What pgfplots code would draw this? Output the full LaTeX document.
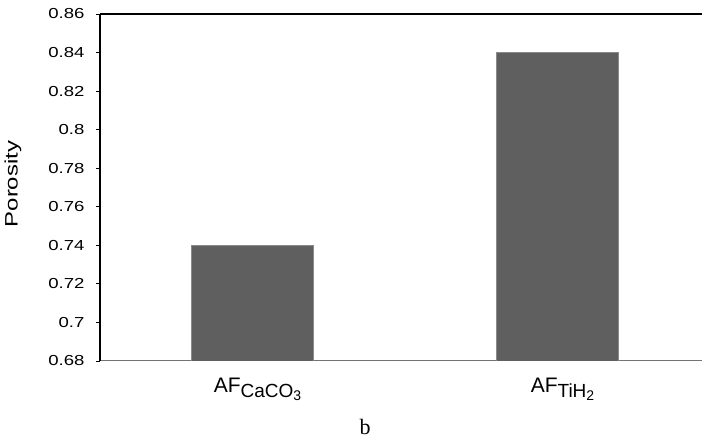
\documentclass[border=0pt]{standalone}
\usepackage{pgfplots}
\pgfplotsset{compat=1.18}
\usepackage{fontspec}
\setmainfont{Liberation Sans}
\newfontfamily\tickfont[FakeStretch=1.28]{Liberation Sans}
\newfontfamily\labfont[FakeStretch=1.33]{Liberation Sans}
\newfontfamily\serif{Liberation Serif}
\definecolor{barfill}{HTML}{5F5F5F}
\definecolor{baredge}{HTML}{8A8A8A}
\newcommand{\cat}[2]{\fontsize{21}{21}\selectfont AF\raisebox{-5pt}{\fontsize{19}{19}\selectfont #1\raisebox{-3pt}{\fontsize{14}{14}\selectfont #2}}}
\begin{document}
\begin{tikzpicture}[x=1pt,y=1pt]
\useasboundingbox (-100,-78) rectangle (602,361);
\begin{axis}[
  at={(0,0)}, anchor=south west,
  scale only axis, width=602pt, height=347pt,
  xmin=-0.5, xmax=1.4738, ymin=0.68, ymax=0.86,
  axis x line*=bottom, axis y line*=left,
  x axis line style={draw=black!55, line width=1pt},
  y axis line style={black, line width=1.5pt},
  tick align=outside, major tick length=4pt,
  ytick={0.68,0.70,0.72,0.74,0.76,0.78,0.80,0.82,0.84,0.86},
  yticklabels={0.68,0.7,0.72,0.74,0.76,0.78,0.8,0.82,0.84,0.86},
  ytick style={black, line width=0.8pt},
  yticklabel style={font=\tickfont\fontsize{14.5}{14.5}\selectfont, xshift=-8pt},
  xtick={0,1},
  xticklabels={{\cat{CaCO}{3}},{\cat{TiH}{2}}},
  xtick style={draw=none},
  xticklabel style={anchor=north, yshift=-10pt, xshift=5pt},
  extra x ticks={0.5},
  extra x tick labels={},
  extra x tick style={tick style={draw=black!55, line width=1pt}, major tick length=5pt},
  ylabel={\labfont\fontsize{18}{18}\selectfont Porosity},
  ylabel style={at={(axis description cs:-0.1445,0.51)}, anchor=center},
  after end axis/.code={\draw[black, line width=2.2pt] (rel axis cs:0,1) -- (rel axis cs:1,1);},
]
\addplot[ybar, bar width=0.4, fill=barfill, draw=baredge, line width=0.6pt] coordinates {(0,0.74) (1,0.84)};
\end{axis}
\node[font=\serif\fontsize{22}{22}\selectfont, anchor=base] at (265,-74) {b};
\end{tikzpicture}
\end{document}
